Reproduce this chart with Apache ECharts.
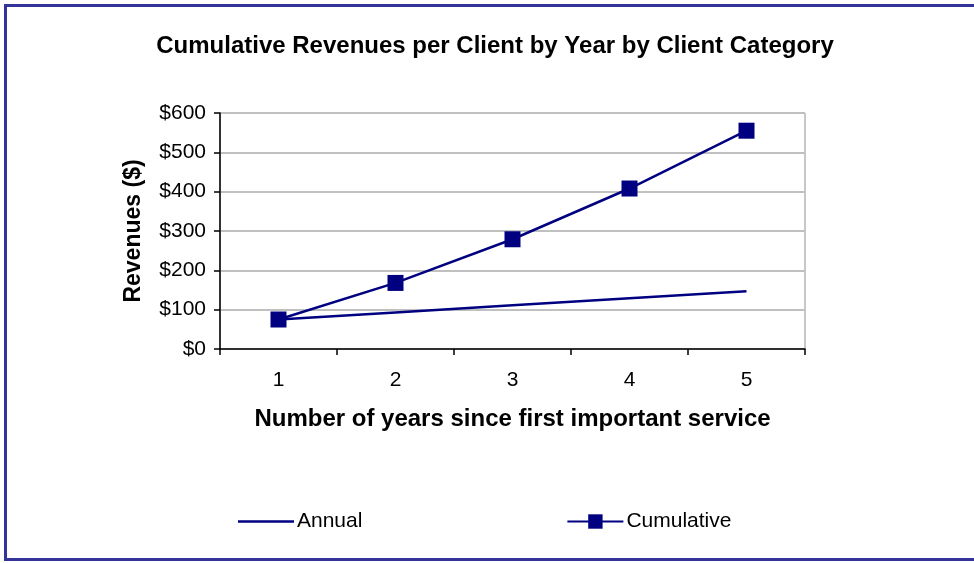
<!DOCTYPE html>
<html>
<head>
<meta charset="utf-8">
<script src="https://cdn.jsdelivr.net/npm/echarts@6/dist/echarts.min.js"></script>
<style>
  html, body { margin: 0; padding: 0; background: #fff; }
  #chart { width: 974px; height: 563px; }
</style>
</head>
<body>
<div id="chart"></div>
<script>
// Years since the first important service
const years = ['1', '2', '3', '4', '5'];
// Revenue per client in each year ($)
const annual = [75, 93, 111, 129, 147];
// Running total of revenue per client ($)
const cumulative = [75, 168, 279, 408, 555];

const navy = '#000080';
const font = '"Liberation Sans", Arial, sans-serif';

// Plain line swatch for the series drawn without markers
const lineIcon = 'path://M0,0L0,0M0,7.75h56v2.5h-56zM0,18L0,18';

const chart = echarts.init(document.getElementById('chart'), null, { renderer: 'canvas' });
chart.setOption({
  animation: false,
  backgroundColor: '#fff',
  textStyle: { fontFamily: font },
  graphic: [{
    type: 'rect',
    shape: { x: 5.5, y: 5.5, width: 1000, height: 554 },
    style: { fill: 'none', stroke: '#333399', lineWidth: 3 },
    silent: true
  }],
  title: {
    text: 'Cumulative Revenues per Client by Year by Client Category',
    left: 490, top: 29, textAlign: 'center',
    textStyle: { fontFamily: font, fontSize: 24, fontWeight: 'bold', color: '#000' }
  },
  legend: {
    left: 233, top: 506,
    itemWidth: 56, itemHeight: 18, itemGap: 204,
    textStyle: { fontFamily: font, fontSize: 21, color: '#000', padding: [0, 0, 0, -2] },
    data: [
      { name: 'Annual', icon: lineIcon, itemStyle: { color: navy } },
      { name: 'Cumulative' }
    ]
  },
  grid: {
    left: 220, right: 169, top: 113, bottom: 214,
    show: true, borderColor: '#909090', borderWidth: 1, backgroundColor: '#fff'
  },
  xAxis: {
    type: 'category',
    data: years,
    boundaryGap: true,
    name: 'Number of years since first important service',
    nameLocation: 'middle', nameGap: 58,
    nameTextStyle: { fontFamily: font, fontSize: 24, fontWeight: 'bold', color: '#000' },
    axisLine: { lineStyle: { color: '#000', width: 1.5 } },
    axisTick: { show: true, inside: false, length: 6, lineStyle: { color: '#000', width: 1.5 } },
    axisLabel: { fontFamily: font, fontSize: 21, color: '#000', margin: 21 },
    splitLine: { show: false }
  },
  yAxis: {
    type: 'value',
    min: 0, max: 600, interval: 100,
    name: 'Revenues ($)',
    nameLocation: 'middle', nameGap: 75, nameRotate: 90,
    nameTextStyle: { fontFamily: font, fontSize: 23, fontWeight: 'bold', color: '#000' },
    axisLine: { show: true, lineStyle: { color: '#000', width: 1.5 } },
    axisTick: { show: true, inside: false, length: 6, lineStyle: { color: '#000', width: 1.5 } },
    axisLabel: { fontFamily: font, fontSize: 21, color: '#000', margin: 14, formatter: v => '$' + v },
    splitLine: { show: true, lineStyle: { color: '#c0c0c0', width: 2 } }
  },
  series: [
    {
      name: 'Annual',
      type: 'line',
      data: annual,
      symbol: 'none',
      lineStyle: { color: navy, width: 2.5 },
      itemStyle: { color: navy }
    },
    {
      name: 'Cumulative',
      type: 'line',
      data: cumulative,
      symbol: 'rect',
      symbolSize: 16,
      lineStyle: { color: navy, width: 2.5 },
      itemStyle: { color: navy }
    }
  ]
});
</script>
</body>
</html>
